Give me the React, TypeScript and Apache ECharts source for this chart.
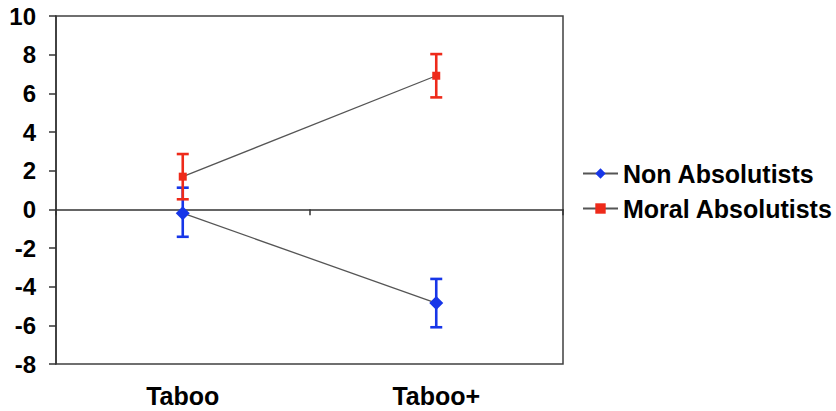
import React, { useEffect, useRef } from "react";
import * as echarts from "echarts";

const categories = ["Taboo", "Taboo+"];
const yTicks = { min: -8, max: 10, interval: 2 };

const nonAbsMean = [-0.2, -4.85];
const nonAbsHigh = [1.12, -3.6];
const nonAbsLow = [-1.42, -6.1];

const moralMean = [1.69, 6.91];
const moralHigh = [2.86, 8.03];
const moralLow = [0.52, 5.79];

const BLUE = "#1736e8";
const RED = "#ee2a1a";
const FONT = "'Liberation Sans', Arial, Helvetica, sans-serif";

function errorSeries(name: string, low: number[], high: number[], color: string) {
  return {
    type: "custom",
    name: name + " err",
    xAxisIndex: 0,
    yAxisIndex: 0,
    z: 2,
    silent: true,
    data: categories.map((_, i) => [i, low[i], high[i]]),
    renderItem: (params: any, api: any) => {
      const x = api.value(0);
      const lo = api.coord([x, api.value(1)]);
      const hi = api.coord([x, api.value(2)]);
      const hw = 6;
      const style = { stroke: color, lineWidth: 2.6 };
      return {
        type: "group",
        children: [
          { type: "line", shape: { x1: lo[0], y1: lo[1], x2: hi[0], y2: hi[1] }, style },
          { type: "line", shape: { x1: lo[0] - hw, y1: lo[1], x2: lo[0] + hw, y2: lo[1] }, style },
          { type: "line", shape: { x1: hi[0] - hw, y1: hi[1], x2: hi[0] + hw, y2: hi[1] }, style },
        ],
      };
    },
  };
}

export default function App() {
  const ref = useRef<HTMLDivElement>(null);
  useEffect(() => {
    document.body.style.margin = "0";
    const chart = echarts.init(ref.current!, null, { renderer: "svg" });
    chart.setOption({
      animation: false,
      backgroundColor: "#ffffff",
      textStyle: { fontFamily: FONT },
      grid: {
        left: 56,
        top: 16,
        right: 273,
        bottom: 47,
        show: true,
        borderColor: "#404040",
        borderWidth: 1.5,
        backgroundColor: "transparent",
      },
      legend: {
        orient: "vertical",
        left: 577,
        top: 156,
        itemWidth: 35,
        itemHeight: 13,
        itemGap: 10,
        data: ["Non Absolutists", "Moral Absolutists"],
        textStyle: { fontSize: 25, fontWeight: "bold", color: "#000", fontFamily: FONT, lineHeight: 24 },
      },
      xAxis: [
        {
          type: "category",
          data: categories,
          position: "bottom",
          boundaryGap: true,
          axisLine: { onZero: true, lineStyle: { color: "#333", width: 1.5 } },
          axisTick: { show: true, length: 6, lineStyle: { color: "#333", width: 1.5 } },
          axisLabel: { show: false },
          splitLine: { show: false },
        },
        {
          type: "category",
          data: categories,
          position: "bottom",
          boundaryGap: true,
          axisLine: { show: false, onZero: false },
          axisTick: { show: false },
          axisLabel: { show: true, margin: 19, fontSize: 25, fontWeight: "bold", color: "#000", fontFamily: FONT },
          splitLine: { show: false },
        },
      ],
      yAxis: {
        type: "value",
        min: yTicks.min,
        max: yTicks.max,
        interval: yTicks.interval,
        axisLine: { show: true, lineStyle: { color: "#333", width: 1.5 } },
        axisTick: { show: true, length: 7, lineStyle: { color: "#333", width: 1.5 } },
        axisLabel: { margin: 20, fontSize: 24, fontWeight: "bold", color: "#000", fontFamily: FONT },
        splitLine: { show: false },
      },
      series: [
        errorSeries("Non Absolutists", nonAbsLow, nonAbsHigh, BLUE),
        errorSeries("Moral Absolutists", moralLow, moralHigh, RED),
        {
          name: "Non Absolutists",
          type: "line",
          data: nonAbsMean,
          z: 3,
          symbol: "diamond",
          symbolSize: 14,
          itemStyle: { color: BLUE },
          lineStyle: { color: "#555", width: 1.3 },
        },
        {
          name: "Moral Absolutists",
          type: "line",
          data: moralMean,
          z: 3,
          symbol: "rect",
          symbolSize: 8,
          itemStyle: { color: RED },
          lineStyle: { color: "#555", width: 1.3 },
        },
      ],
    });
    return () => chart.dispose();
  }, []);
  return <div ref={ref} style={{ width: 836, height: 411 }} />;
}
